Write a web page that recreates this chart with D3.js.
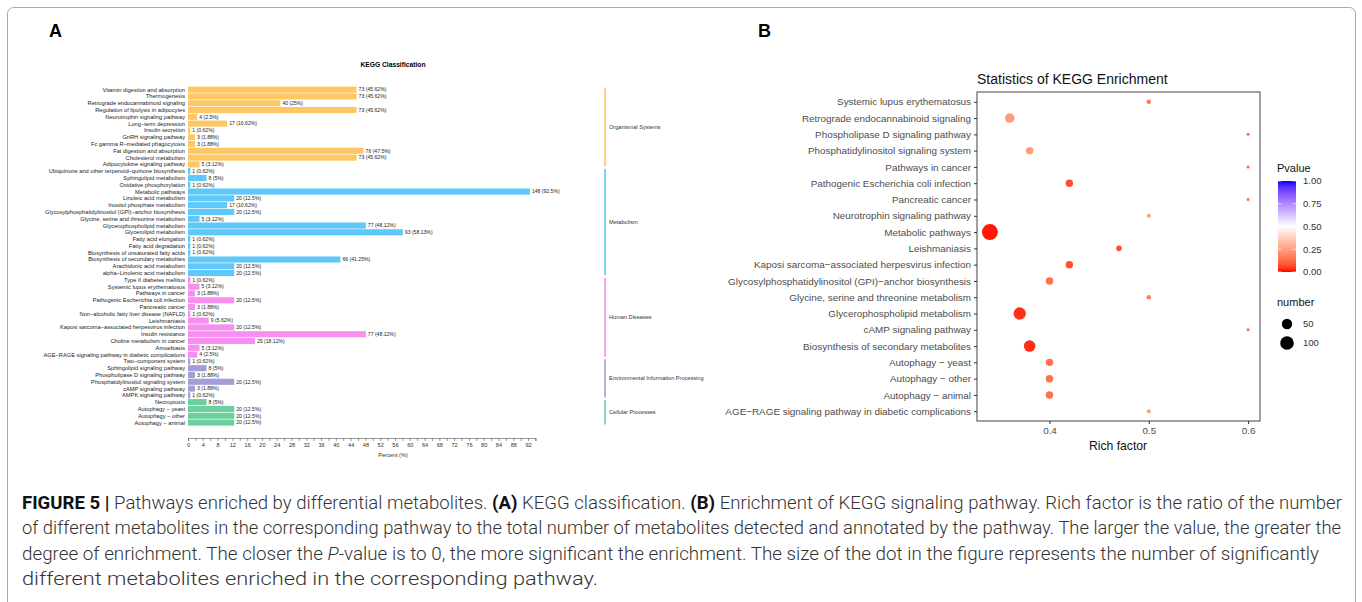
<!DOCTYPE html>
<html>
<head>
<meta charset="utf-8">
<script src="https://cdn.jsdelivr.net/npm/d3@7"></script>
<style>
  body { margin: 0; background: #fff; }
  svg { display: block; font-family: "Liberation Sans", Arial, sans-serif; }
</style>
</head>
<body>
<svg id="fig" width="1362" height="602"></svg>
<script>
// ---- panel A data: KEGG classification ----
var pathwaysA = [
  "Vitamin digestion and absorption", "Thermogenesis", "Retrograde endocannabinoid signaling",
  "Regulation of lipolysis in adipocytes", "Neurotrophin signaling pathway", "Long\u2212term depression",
  "Insulin secretion", "GnRH signaling pathway", "Fc gamma R\u2212mediated phagocytosis",
  "Fat digestion and absorption", "Cholesterol metabolism", "Adipocytokine signaling pathway",
  "Ubiquinone and other terpenoid\u2212quinone biosynthesis", "Sphingolipid metabolism", "Oxidative phosphorylation",
  "Metabolic pathways", "Linoleic acid metabolism", "Inositol phosphate metabolism",
  "Glycosylphosphatidylinositol (GPI)\u2212anchor biosynthesis", "Glycine, serine and threonine metabolism",
  "Glycerophospholipid metabolism", "Glycerolipid metabolism", "Fatty acid elongation", "Fatty acid degradation",
  "Biosynthesis of unsaturated fatty acids", "Biosynthesis of secondary metabolites",
  "Arachidonic acid metabolism", "alpha\u2212Linolenic acid metabolism",
  "Type II diabetes mellitus", "Systemic lupus erythematosus", "Pathways in cancer",
  "Pathogenic Escherichia coli infection", "Pancreatic cancer", "Non\u2212alcoholic fatty liver disease (NAFLD)",
  "Leishmaniasis", "Kaposi sarcoma\u2212associated herpesvirus infection", "Insulin resistance",
  "Choline metabolism in cancer", "Amoebiasis", "AGE\u2212RAGE signaling pathway in diabetic complications",
  "Two\u2212component system", "Sphingolipid signaling pathway", "Phospholipase D signaling pathway",
  "Phosphatidylinositol signaling system", "cAMP signaling pathway", "AMPK signaling pathway",
  "Necroptosis", "Autophagy \u2212 yeast", "Autophagy \u2212 other", "Autophagy \u2212 animal"
];
var countsA = [73, 73, 40, 73, 4, 17, 1, 3, 3, 76, 73, 5,
  1, 8, 1, 148, 20, 17, 20, 5, 77, 93, 1, 1, 1, 66, 20, 20,
  1, 5, 3, 20, 3, 1, 9, 20, 77, 29, 5, 4,
  1, 8, 3, 20, 3, 1,
  8, 20, 20, 20];
var percentsA = [45.62, 45.62, 25, 45.62, 2.5, 10.62, 0.62, 1.88, 1.88, 47.5, 45.62, 3.12,
  0.62, 5, 0.62, 92.5, 12.5, 10.62, 12.5, 3.12, 48.12, 58.13, 0.62, 0.62, 0.62, 41.25, 12.5, 12.5,
  0.62, 3.12, 1.88, 12.5, 1.88, 0.62, 5.62, 12.5, 48.12, 18.12, 3.12, 2.5,
  0.62, 5, 1.88, 12.5, 1.88, 0.62,
  5, 12.5, 12.5, 12.5];
var groupNames = ["Organismal Systems", "Metabolism", "Human Diseases",
  "Environmental Information Processing", "Cellular Processes"];
var groupSizes = [12, 16, 12, 6, 4];
var groupColors = ["#fdc864", "#5fc8fa", "#f78ff0", "#a29ed8", "#6bd09b"];
var percentTicks = d3.range(0, 95, 2);

// ---- panel B data: KEGG enrichment ----
var pathwaysB = [
  "Systemic lupus erythematosus", "Retrograde endocannabinoid signaling", "Phospholipase D signaling pathway",
  "Phosphatidylinositol signaling system", "Pathways in cancer", "Pathogenic Escherichia coli infection",
  "Pancreatic cancer", "Neurotrophin signaling pathway", "Metabolic pathways", "Leishmaniasis",
  "Kaposi sarcoma\u2212associated herpesvirus infection", "Glycosylphosphatidylinositol (GPI)\u2212anchor biosynthesis",
  "Glycine, serine and threonine metabolism", "Glycerophospholipid metabolism", "cAMP signaling pathway",
  "Biosynthesis of secondary metabolites", "Autophagy \u2212 yeast", "Autophagy \u2212 other",
  "Autophagy \u2212 animal", "AGE\u2212RAGE signaling pathway in diabetic complications"
];
var richFactor = [0.5, 0.36, 0.6, 0.38, 0.6, 0.42, 0.6, 0.5, 0.34, 0.47,
  0.42, 0.4, 0.5, 0.37, 0.6, 0.38, 0.4, 0.4, 0.4, 0.5];
var numberB = [5, 40, 3, 20, 3, 20, 3, 4, 148, 9,
  20, 20, 5, 77, 3, 66, 20, 20, 20, 4];
var pvalueB = [0.17, 0.24, 0.13, 0.24, 0.13, 0.075, 0.13, 0.25, 0.01, 0.075,
  0.075, 0.14, 0.17, 0.03, 0.13, 0.03, 0.14, 0.14, 0.14, 0.25];
var richTicks = [0.4, 0.5, 0.6];
var pvalTicks = [0, 0.25, 0.5, 0.75, 1];
var sizeBreaks = [50, 100];

var captionLines = [
  [["b", "FIGURE 5 | "], ["n", "Pathways enriched by differential metabolites. "], ["b", "(A)"],
   ["n", " KEGG classification. "], ["b", "(B)"],
   ["n", " Enrichment of KEGG signaling pathway. Rich factor is the ratio of the number"]],
  [["n", "of different metabolites in the corresponding pathway to the total number of metabolites detected and annotated by the pathway. The larger the value, the greater the"]],
  [["n", "degree of enrichment. The closer the "], ["i", "P"],
   ["n", "-value is to 0, the more significant the enrichment. The size of the dot in the figure represents the number of significantly"]],
  [["n", "different metabolites enriched in the corresponding pathway."]]
];
var captionEnds = [1342, 1341, 1319, 598];

var svg = d3.select("#fig");

// outer frame
svg.append("rect").attr("x", 7.5).attr("y", 7.5).attr("width", 1348).attr("height", 640)
  .attr("rx", 6).attr("fill", "none").attr("stroke", "#a8a8a8").attr("stroke-width", 1);

svg.append("text").attr("x", 49).attr("y", 37).attr("font-size", 18).attr("font-weight", "bold").text("A");
svg.append("text").attr("x", 758).attr("y", 37).attr("font-size", 18).attr("font-weight", "bold").text("B");

// ================= panel A =================
var gA = svg.append("g");
var rows = pathwaysA.map(function(p, i){
  var g = 0, acc = 0;
  while (i >= acc + groupSizes[g]) { acc += groupSizes[g]; g++; }
  return {name: p, count: countsA[i], pct: percentsA[i], group: g};
});

var xA = d3.scaleLinear().domain([0, 94]).range([188, 188 + 94 * 3.696]);
var yA = d3.scaleBand().domain(pathwaysA).range([86.6, 425.6]).paddingInner(0.1);

gA.append("text").attr("x", 393).attr("y", 67).attr("text-anchor", "middle")
  .attr("font-size", 6.7).attr("font-weight", "bold").text("KEGG Classification");

gA.selectAll("rect.bar").data(rows).enter().append("rect")
  .attr("class", "bar")
  .attr("x", xA(0))
  .attr("y", function(d){ return yA(d.name); })
  .attr("width", function(d){ return xA(d.pct) - xA(0); })
  .attr("height", yA.bandwidth())
  .attr("fill", function(d){ return groupColors[d.group]; });

gA.selectAll("text.lab").data(rows).enter().append("text")
  .attr("class", "lab")
  .attr("x", 185)
  .attr("y", function(d){ return yA(d.name) + yA.bandwidth() / 2; })
  .attr("dy", "0.35em").attr("text-anchor", "end")
  .attr("font-size", 5.7).attr("fill", "#222")
  .text(function(d){ return d.name; });

gA.selectAll("text.val").data(rows).enter().append("text")
  .attr("class", "val")
  .attr("x", function(d){ return xA(d.pct) + 2; })
  .attr("y", function(d){ return yA(d.name) + yA.bandwidth() / 2; })
  .attr("dy", "0.35em")
  .attr("font-size", 5.1).attr("fill", "#222")
  .text(function(d){ return d.count + " (" + d.pct + "%)"; });

var axA = gA.append("g").attr("transform", "translate(0,438)")
  .call(d3.axisBottom(xA).tickValues(percentTicks).tickSize(3).tickPadding(2)
    .tickFormat(function(v){ return (v % 4 === 0 && v <= 92) ? v : ""; }));
axA.select(".domain").attr("stroke", "#555").attr("stroke-width", 0.6);
axA.selectAll(".tick line").attr("stroke", "#555").attr("stroke-width", 0.6);
axA.selectAll(".tick text").attr("font-size", 5.6).attr("fill", "#333")
  .attr("font-family", "Liberation Sans, Arial, sans-serif");

gA.append("text").attr("x", 393).attr("y", 457).attr("text-anchor", "middle")
  .attr("font-size", 5.6).attr("fill", "#333").text("Percent (%)");

// group brackets
var start = 0;
groupNames.forEach(function(name, g){
  var first = pathwaysA[start], last = pathwaysA[start + groupSizes[g] - 1];
  var y0 = yA(first) + 1, y1 = yA(last) + yA.bandwidth() - 1;
  gA.append("line").attr("x1", 605).attr("x2", 605).attr("y1", y0).attr("y2", y1)
    .attr("stroke", groupColors[g]).attr("stroke-width", 1.6);
  gA.append("text").attr("x", 609).attr("y", (y0 + y1) / 2).attr("dy", "0.35em")
    .attr("font-size", 5.6).attr("fill", "#333").text(name);
  start += groupSizes[g];
});

// ================= panel B =================
var gB = svg.append("g");
var dots = pathwaysB.map(function(p, i){
  return {name: p, rich: richFactor[i], n: numberB[i], p: pvalueB[i]};
});

var xB = d3.scaleLinear().domain([0.327, 0.612]).range([977, 1260]);
var yB = d3.scalePoint().domain(pathwaysB).range([92, 421]).padding(0.6);
var color = d3.scaleLinear().domain([0, 0.5, 1]).range(["#ff0000", "#ffffff", "#0000ff"])
  .interpolate(d3.interpolateLab);
var nMin = d3.min(numberB), nMax = d3.max(numberB);
var rScale = d3.scaleLinear().domain([0, 1]).range([1.5, 8]);
function radius(n){ return rScale(Math.sqrt((n - nMin) / (nMax - nMin))); }

gB.append("text").attr("x", 977).attr("y", 84).attr("font-size", 14).attr("fill", "#111")
  .text("Statistics of KEGG Enrichment");

gB.append("rect").attr("x", 977).attr("y", 92).attr("width", 283).attr("height", 329)
  .attr("fill", "#fff").attr("stroke", "#555").attr("stroke-width", 1.1);

var axY = gB.append("g").attr("transform", "translate(977,0)")
  .call(d3.axisLeft(yB).tickSize(3).tickPadding(3));
axY.select(".domain").remove();
axY.selectAll(".tick line").attr("stroke", "#333");
axY.selectAll(".tick text").attr("font-size", 9.9).attr("fill", "#4d4d4d")
  .attr("font-family", "Liberation Sans, Arial, sans-serif");

var axX = gB.append("g").attr("transform", "translate(0,421)")
  .call(d3.axisBottom(xB).tickValues(richTicks).tickSize(3).tickPadding(3).tickFormat(d3.format(".1f")));
axX.select(".domain").remove();
axX.selectAll(".tick line").attr("stroke", "#333");
axX.selectAll(".tick text").attr("font-size", 9.9).attr("fill", "#4d4d4d")
  .attr("font-family", "Liberation Sans, Arial, sans-serif");

gB.append("text").attr("x", 1118).attr("y", 450).attr("text-anchor", "middle")
  .attr("font-size", 12.2).attr("fill", "#111").text("Rich factor");

gB.selectAll("circle.dot").data(dots).enter().append("circle")
  .attr("class", "dot")
  .attr("cx", function(d){ return xB(d.rich); })
  .attr("cy", function(d){ return yB(d.name); })
  .attr("r", function(d){ return radius(d.n); })
  .attr("fill", function(d){ return color(d.p); });

// colour legend
gB.append("text").attr("x", 1277).attr("y", 172).attr("font-size", 11).attr("fill", "#111").text("Pvalue");
var grad = svg.append("defs").append("linearGradient").attr("id", "pgrad")
  .attr("x1", 0).attr("y1", 1).attr("x2", 0).attr("y2", 0);
d3.range(0, 1.0001, 0.05).forEach(function(t){
  grad.append("stop").attr("offset", t).attr("stop-color", color(t));
});
var cb = d3.scaleLinear().domain([0, 1]).range([272, 181]);
gB.append("rect").attr("x", 1278).attr("y", cb(1)).attr("width", 18).attr("height", cb(0) - cb(1))
  .attr("fill", "url(#pgrad)");
pvalTicks.forEach(function(v){
  gB.append("line").attr("x1", 1278).attr("x2", 1281.5).attr("y1", cb(v)).attr("y2", cb(v))
    .attr("stroke", "#fff").attr("stroke-width", 0.7);
  gB.append("line").attr("x1", 1292.5).attr("x2", 1296).attr("y1", cb(v)).attr("y2", cb(v))
    .attr("stroke", "#fff").attr("stroke-width", 0.7);
  gB.append("text").attr("x", 1303).attr("y", cb(v)).attr("dy", "0.35em")
    .attr("font-size", 9.5).attr("fill", "#333").text(d3.format(".2f")(v));
});

// size legend
gB.append("text").attr("x", 1277).attr("y", 306).attr("font-size", 11).attr("fill", "#111").text("number");
sizeBreaks.forEach(function(n, i){
  var cy = 324 + i * 19;
  gB.append("circle").attr("cx", 1287).attr("cy", cy).attr("r", radius(n)).attr("fill", "#000");
  gB.append("text").attr("x", 1303).attr("y", cy).attr("dy", "0.35em")
    .attr("font-size", 9.5).attr("fill", "#333").text(n);
});

// ================= caption =================
captionLines.forEach(function(parts, i){
  var t = svg.append("text").attr("x", 22).attr("y", 509 + i * 25.3)
    .attr("font-family", "Roboto, Liberation Sans, sans-serif")
    .attr("font-size", 18).attr("font-weight", 300).attr("fill", "#333")
    .attr("textLength", captionEnds[i] - 22).attr("lengthAdjust", "spacingAndGlyphs");
  parts.forEach(function(p){
    var s = t.append("tspan").text(p[1]);
    if (p[0] === "b") s.attr("font-weight", 700).attr("fill", "#111");
    if (p[0] === "i") s.attr("font-style", "italic");
  });
});
</script>
</body>
</html>
